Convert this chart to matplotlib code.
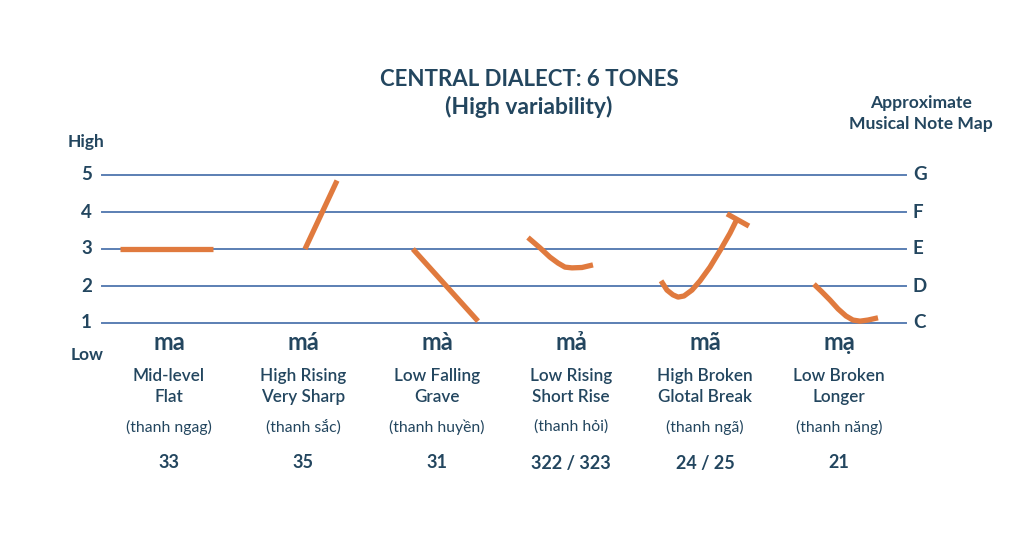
import matplotlib
matplotlib.use("Agg")
import matplotlib.pyplot as plt
from matplotlib.transforms import blended_transform_factory

# ---- data -------------------------------------------------------------
syllables = ["ma", "má", "mà", "mả", "mã", "mạ"]
desc_line1 = ["Mid-level", "High Rising", "Low Falling", "Low Rising", "High Broken", "Low Broken"]
desc_line2 = ["Flat", "Very Sharp", "Grave", "Short Rise", "Glotal Break", "Longer"]
tone_names = ["(thanh ngag)", "(thanh sắc)", "(thanh huyền)", "(thanh hỏi)", "(thanh ngã)", "(thanh năng)"]
tone_codes = ["33", "35", "31", "322 / 323", "24 / 25", "21"]

pitch_levels = [1, 2, 3, 4, 5]
note_names = ["C", "D", "E", "F", "G"]

# pitch contours: time offset within each column (column width = 1) and pitch level
contour_t = [
    [-0.366, 0.328],
    [0.015, 0.254],
    [-0.18, 0.306],
    [-0.321, -0.231, -0.157, -0.097, -0.045, 0.007, 0.082, 0.164],
    [-0.328, -0.284, -0.239, -0.201, -0.157, -0.097, -0.037, 0.037, 0.119, 0.187, 0.239],
    [-0.187, -0.127, -0.067, -0.007, 0.052, 0.104, 0.157, 0.216, 0.291],
]
contour_p = [
    [3.0, 3.0],
    [3.0, 4.85],
    [3.0, 1.05],
    [3.31, 3.03, 2.78, 2.62, 2.51, 2.49, 2.50, 2.57],
    [2.14, 1.89, 1.76, 1.70, 1.73, 1.89, 2.14, 2.51, 3.0, 3.43, 3.81],
    [2.05, 1.84, 1.62, 1.38, 1.19, 1.08, 1.05, 1.08, 1.14],
]
# glottal-break marker at the end of the ngã contour
break_t = [0.164, 0.328]
break_p = [3.95, 3.62]

# ---- style ------------------------------------------------------------
W, H = 1024, 536
NAVY = "#23465f"
ORANGE = "#e07a3e"
GRID = "#5b7fb3"
FONT = ["Lato", "Noto Sans", "DejaVu Sans"]
plt.rcParams["font.family"] = FONT

fig = plt.figure(figsize=(W / 100, H / 100), dpi=100)
fig.patch.set_facecolor("white")


def fx(px):
    return px / W


def fy(py):
    return 1 - py / H


ax = fig.add_axes([fx(102), fy(323), fx(906) - fx(102), fy(175) - fy(323)])
ax.set_xlim(0, len(syllables))
ax.set_ylim(1, 5)
ax.axis("off")

for lvl in pitch_levels:
    ax.axhline(lvl, color=GRID, lw=1.4, clip_on=False, zorder=1)

for i, (ts, ps) in enumerate(zip(contour_t, contour_p)):
    xs = [i + 0.5 + t for t in ts]
    ax.plot(xs, ps, color=ORANGE, lw=3.8, solid_capstyle="butt",
            solid_joinstyle="round", clip_on=False, zorder=3)
ax.plot([4.5 + t for t in break_t], break_p, color=ORANGE, lw=3.8,
        solid_capstyle="butt", clip_on=False, zorder=3)

# left pitch scale and right note map
ytr = blended_transform_factory(fig.transFigure, ax.transData)
for lvl in pitch_levels:
    fig.text(fx(92), lvl, str(lvl), transform=ytr, ha="right", va="center",
             fontsize=13.5, fontweight="bold", color=NAVY)
for lvl, note in zip(pitch_levels, note_names):
    fig.text(fx(913), lvl, note, transform=ytr, ha="left", va="center",
             fontsize=13.5, fontweight="bold", color=NAVY)

fig.text(fx(86), fy(142), "High", ha="center", va="center",
         fontsize=12.5, fontweight="bold", color=NAVY)
fig.text(fx(87), fy(355), "Low", ha="center", va="center",
         fontsize=12.5, fontweight="bold", color=NAVY)

fig.text(fx(921), fy(103), "Approximate", ha="center", va="center",
         fontsize=12.6, fontweight="bold", color=NAVY)
fig.text(fx(921), fy(124), "Musical Note Map", ha="center", va="center",
         fontsize=12.6, fontweight="bold", color=NAVY)

fig.text(fx(529), fy(80), "CENTRAL DIALECT: 6 TONES", ha="center", va="center",
         fontsize=16, fontweight="bold", color=NAVY)
fig.text(fx(529), fy(107), "(High variability)", ha="center", va="center",
         fontsize=16.5, fontweight="bold", color=NAVY)

# column labels under the staff
xtr = blended_transform_factory(ax.transData, fig.transFigure)
for i in range(len(syllables)):
    x = i + 0.5
    ax.text(x, fy(343), syllables[i], transform=xtr, ha="center", va="center",
            fontsize=17, fontweight="bold", color=NAVY)
    ax.text(x, fy(376), desc_line1[i], transform=xtr, ha="center", va="center",
            fontsize=12.3, fontweight="semibold", color=NAVY)
    ax.text(x, fy(397), desc_line2[i], transform=xtr, ha="center", va="center",
            fontsize=12.3, fontweight="semibold", color=NAVY)
    ax.text(x, fy(427), tone_names[i], transform=xtr, ha="center", va="center",
            fontsize=11.3, color=NAVY)
    ax.text(x, fy(463), tone_codes[i], transform=xtr, ha="center", va="center",
            fontsize=13, fontweight="bold", color=NAVY)

fig.savefig("out.png", dpi=100, facecolor="white")
